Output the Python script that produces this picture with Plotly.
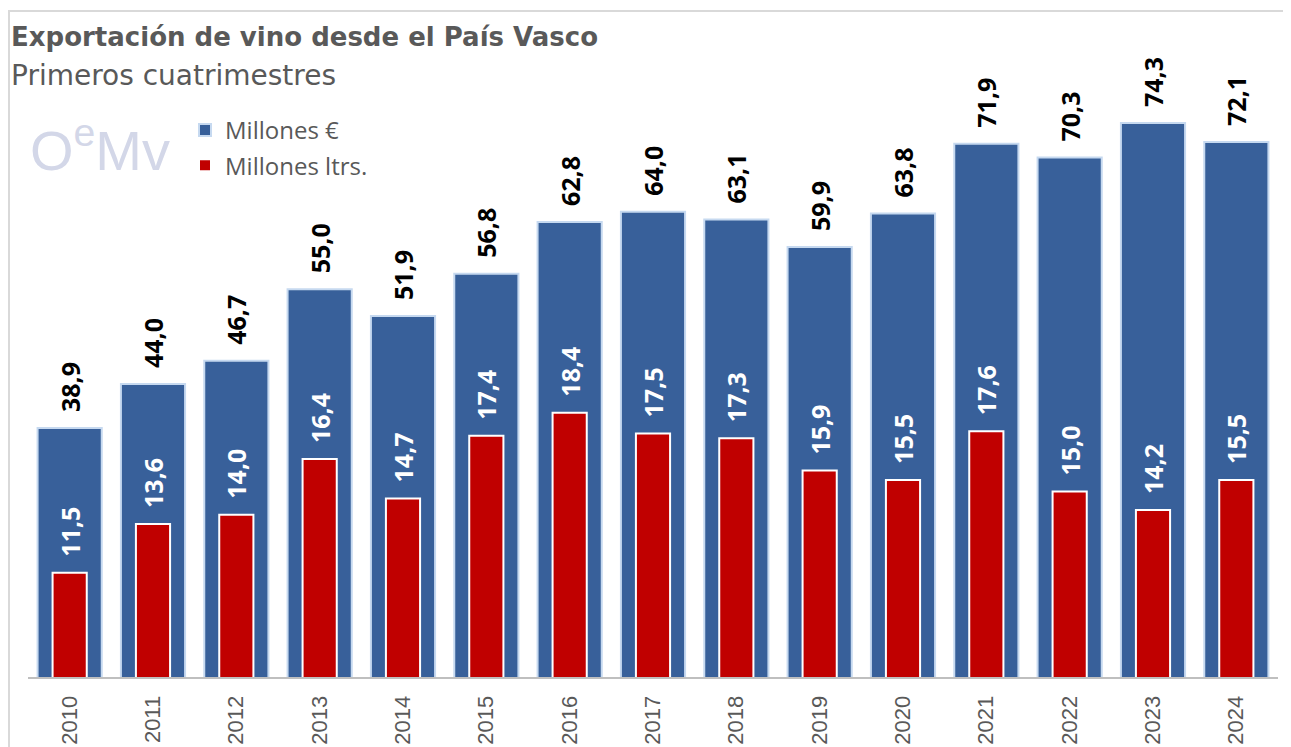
import plotly.graph_objects as go

years = [str(y) for y in range(2010, 2025)]
millones_eur = [38.9, 44.0, 46.7, 55.0, 51.9, 56.8, 62.8, 64.0, 63.1, 59.9, 63.8, 71.9, 70.3, 74.3, 72.1]
millones_ltrs = [11.5, 13.6, 14.0, 16.4, 14.7, 17.4, 18.4, 17.5, 17.3, 15.9, 15.5, 17.6, 15.0, 14.2, 15.5]

title_text = "Exportación de vino desde el País Vasco"
subtitle_text = "Primeros cuatrimestres"

# page body has an 8px margin; figure is sized to fill the rest of the window
OFF = 8
W, H = 1291 - OFF, 747 - OFF
ML, MR, MT, MB = 28 - OFF, 13, 40 - OFF, 70
PW = W - ML - MR
PH = H - MT - MB


def px_x(x):
    return (x - OFF - ML) / PW


def px_y(y):
    return (H - MB - (y - OFF)) / PH


def fmt(v):
    return "\u00a0\u00a0" + f"{v:.1f}".replace(".", ",")


GREY = "#595959"

fig = go.Figure()
fig.add_trace(go.Bar(
    x=years, y=millones_eur, name="Millones €",
    width=0.77,
    marker=dict(color="#38609a", line=dict(color="#c6d9f0", width=2)),
    text=[fmt(v) for v in millones_eur],
    textposition="outside", textangle=-90, constraintext="none",
    outsidetextfont=dict(family="Open Sans", size=25, color="black", weight="bold"),
    legendgroup="a", hoverinfo="skip",
))
fig.add_trace(go.Bar(
    x=years, y=millones_ltrs, name="Millones ltrs.", yaxis="y2",
    width=0.41,
    marker=dict(color="#c00000", line=dict(color="white", width=2)),
    text=[fmt(v) for v in millones_ltrs],
    textposition="outside", textangle=-90, constraintext="none",
    outsidetextfont=dict(family="Open Sans", size=25, color="white", weight="bold"),
    legendgroup="b", hoverinfo="skip",
))

fig.update_layout(
    width=W, height=H,
    margin=dict(l=ML, r=MR, t=MT, b=MB, autoexpand=False),
    paper_bgcolor="white", plot_bgcolor="white",
    barmode="overlay",
    font=dict(family="Open Sans", color=GREY),
    xaxis=dict(
        showline=True, linecolor="#bfbfbf", linewidth=2,
        showgrid=False, zeroline=False, ticks="",
        tickangle=-90, ticklabelstandoff=8, automargin=False,
        tickfont=dict(family="Liberation Sans", size=22, color=GREY),
    ),
    yaxis=dict(range=[10, 10 + 637 / 8.616], visible=False, showgrid=False, automargin=False),
    yaxis2=dict(range=[7, 7 + 637 / 23.19], overlaying="y", visible=False, showgrid=False,
                automargin=False),
    showlegend=True,
    legend=dict(
        x=px_x(185), y=px_y(108), xanchor="left", yanchor="top",
        font=dict(family="Open Sans", size=24, color=GREY),
        traceorder="grouped", tracegroupgap=1,
        bgcolor="rgba(0,0,0,0)",
    ),
    shapes=[dict(
        type="rect", xref="paper", yref="paper",
        x0=px_x(9), x1=1.2, y0=-0.5, y1=px_y(11),
        line=dict(color="#d9d9d9", width=2), fillcolor="rgba(0,0,0,0)", layer="below",
    )],
    annotations=[
        dict(text=f"<b>{title_text}</b>", xref="paper", yref="paper",
             x=px_x(9), y=px_y(37), xanchor="left", yanchor="middle", showarrow=False,
             font=dict(family="DejaVu Sans", size=26, color=GREY)),
        dict(text=subtitle_text, xref="paper", yref="paper",
             x=px_x(9), y=px_y(75), xanchor="left", yanchor="middle", showarrow=False,
             font=dict(family="DejaVu Sans", size=28, color=GREY)),
        dict(text="O<sup>e</sup>Mv", xref="paper", yref="paper",
             x=px_x(100), y=px_y(146), xanchor="center", yanchor="middle", showarrow=False,
             font=dict(family="Liberation Sans", size=56, color="#d3d7e8")),
    ],
)

fig.write_html("out.html")
